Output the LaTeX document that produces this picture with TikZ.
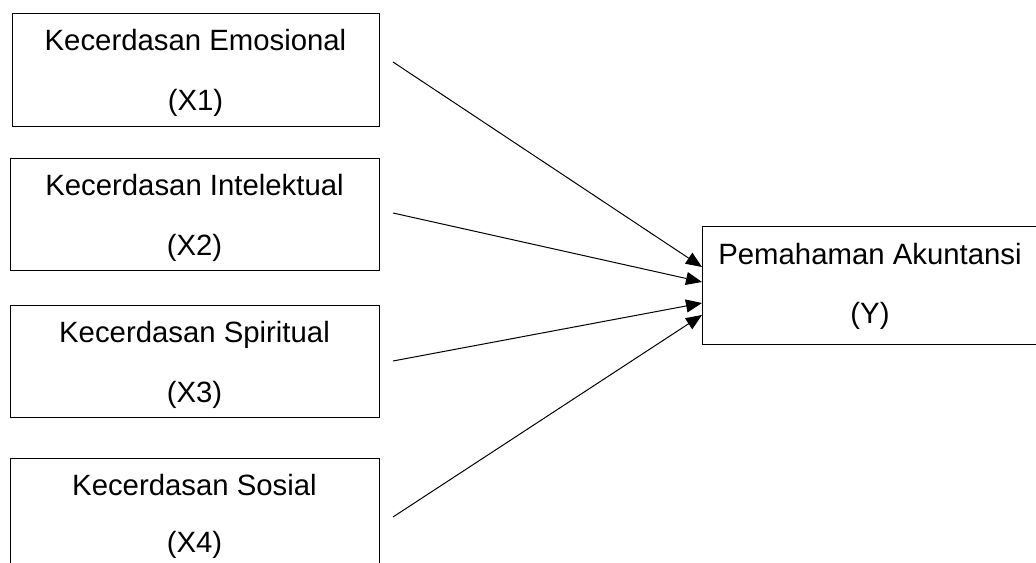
\documentclass[tikz,border=0pt]{standalone}
\usepackage{fontspec}
\setmainfont{Liberation Sans}
\usetikzlibrary{arrows.meta}
\begin{document}
\begin{tikzpicture}[x=0.75pt,y=-0.75pt,
  box/.style={draw=black,line width=0.75pt,rectangle,inner sep=0pt,anchor=north west},
  lbl/.style={font=\fontsize{22}{26}\selectfont,anchor=base,inner sep=0pt},
  conn/.style={line width=0.75pt,-{Triangle[length=12pt,width=9.75pt]}}]
\useasboundingbox (0,0) rectangle (1036,563);
\clip (0,0) rectangle (1036,563);
% boxes
\node[box,minimum width=275.25pt,minimum height=84.75pt] (x1) at (12,13) {};
\node[box,minimum width=276.75pt,minimum height=83.6pt] (x2) at (10,158.5) {};
\node[box,minimum width=276.75pt,minimum height=84pt] (x3) at (10,305) {};
\node[box,minimum width=276.75pt,minimum height=90pt] (x4) at (10,457.5) {};
\node[box,minimum width=255pt,minimum height=88.5pt] (yb) at (702,226) {};
% labels
\node[lbl] (t1a) at (195.5,51) {Kecerdasan Emosional};
\node[lbl] (t1b) at (195.5,111) {(X1)};
\node[lbl] (t2a) at (194.5,196) {Kecerdasan Intelektual};
\node[lbl] (t2b) at (194.5,256) {(X2)};
\node[lbl] (t3a) at (194.5,342) {Kecerdasan Spiritual};
\node[lbl] (t3b) at (194.5,402) {(X3)};
\node[lbl] (t4a) at (194.5,495) {Kecerdasan Sosial};
\node[lbl] (t4b) at (194.5,552) {(X4)};
\node[lbl] (tya) at (870,265) {Pemahaman Akuntansi};
\node[lbl] (tyb) at (870,324) {(Y)};
% connectors
\coordinate (s1) at (393,62);
\coordinate (s2) at (393,213);
\coordinate (s3) at (393,361);
\coordinate (s4) at (393,517);
\draw[conn] (s1) -- ([yshift=-30.75pt]yb.north west);
\draw[conn] (s2) -- ([yshift=-42pt]yb.north west);
\draw[conn] (s3) -- ([yshift=-57.75pt]yb.north west);
\draw[conn] (s4) -- ([yshift=-66.75pt]yb.north west);
\end{tikzpicture}
\end{document}
